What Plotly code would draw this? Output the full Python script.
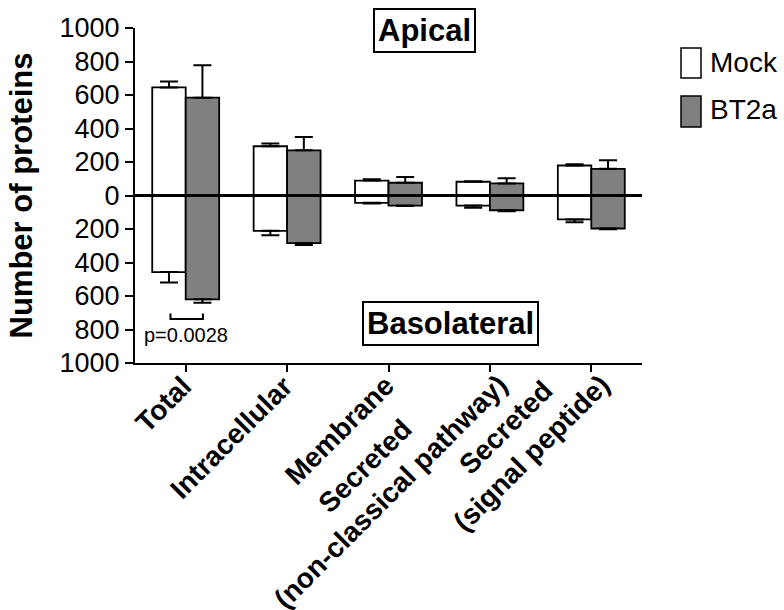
import plotly.graph_objects as go

categories = ["Total", "Intracellular", "Membrane",
              "Secreted (non-classical pathway)", "Secreted (signal peptide)"]
tick_labels = ["Total", "Intracellular", "Membrane",
               "Secreted<br>(non-classical pathway)",
               "Secreted<br>(signal peptide)"]

mock_apical = [645, 294, 89, 82, 179]
mock_apical_err = [36, 16, 8, 3, 7]
bt2a_apical = [584, 270, 76, 72, 159]
bt2a_apical_err = [193, 80, 34, 31, 52]
mock_baso = [-457, -211, -44, -60, -143]
mock_baso_err = [62, 27, 4, 13, 17]
bt2a_baso = [-620, -284, -60, -88, -197]
bt2a_baso_err = [20, 12, 3, 6, 4]

y_tick_vals = [1000, 800, 600, 400, 200, 0, -200, -400, -600, -800, -1000]
y_tick_text = ["1000", "800", "600", "400", "200", "0", "200", "400", "600", "800", "1000"]

FONT = "Liberation Sans, Arial, sans-serif"
W, H = 784, 610
ML, MR, MT, MB = 135, 142, 28, 247
PW, PH = W - ML - MR, H - MT - MB


def px(x):
    return (x - ML) / PW


def py(y):
    return (H - MB - y) / PH


def bar(name, vals, errs, up, fill, offset):
    zeros = [0] * len(vals)
    err = dict(type="data", symmetric=False,
               array=errs if up else zeros,
               arrayminus=zeros if up else errs,
               width=9, thickness=2, color="black")
    return go.Bar(x=categories, y=vals, name=name, showlegend=False,
                  marker=dict(color=fill, line=dict(color="black", width=1.8)),
                  width=0.33, offset=offset, error_y=err)


fig = go.Figure()
fig.add_trace(bar("Mock", mock_apical, mock_apical_err, True, "white", -0.33))
fig.add_trace(bar("BT2a", bt2a_apical, bt2a_apical_err, True, "#808080", 0))
fig.add_trace(bar("Mock", mock_baso, mock_baso_err, False, "white", -0.33))
fig.add_trace(bar("BT2a", bt2a_baso, bt2a_baso_err, False, "#808080", 0))

shapes = [
    # zero line above bars
    dict(type="line", xref="paper", yref="y", x0=0, x1=1, y0=0, y1=0,
         line=dict(color="black", width=3), layer="above"),
    # p-value bracket
    dict(type="path", xref="x", yref="y",
         path="M -0.15,-705 L -0.15,-738 L 0.17,-738 L 0.17,-705",
         line=dict(color="black", width=2)),
    # legend swatches
    dict(type="rect", xref="paper", yref="paper", x0=px(681), x1=px(701),
         y0=py(78), y1=py(48), fillcolor="white", line=dict(color="black", width=1.5)),
    dict(type="rect", xref="paper", yref="paper", x0=px(681), x1=px(701),
         y0=py(127), y1=py(96), fillcolor="#808080", line=dict(color="black", width=1.5)),
]

annotations = [
    dict(text="<b>Apical</b>", xref="paper", yref="paper", x=px(424.5), y=py(30.5),
         xanchor="center", yanchor="middle",
         showarrow=False, font=dict(family=FONT, size=31, color="black"),
         bordercolor="black", borderwidth=2, borderpad=3, bgcolor="white"),
    dict(text="<b>Basolateral</b>", xref="paper", yref="paper", x=px(450), y=py(323.5),
         xanchor="center", yanchor="middle",
         showarrow=False, font=dict(family=FONT, size=31, color="black"),
         bordercolor="black", borderwidth=2, borderpad=3, bgcolor="white"),
    dict(text="p=0.0028", xref="x", yref="y", x=0.0, y=-830, showarrow=False,
         font=dict(family=FONT, size=20, color="black")),
    dict(text="Mock", xref="paper", yref="paper", x=px(708), y=py(63),
         xanchor="left", yanchor="middle", showarrow=False,
         font=dict(family=FONT, size=28, color="black")),
    dict(text="BT2a", xref="paper", yref="paper", x=px(708), y=py(109),
         xanchor="left", yanchor="middle", showarrow=False,
         font=dict(family=FONT, size=28, color="black")),
]

# category labels, rotated, anchored at each category tick
for cat, lab in zip(categories, tick_labels):
    multi = "<br>" in lab
    annotations.append(dict(
        text="<b>" + lab.replace("<br>", "</b><br><b>") + "</b>",
        xref="x", yref="paper", x=cat, y=0,
        xanchor="right", yanchor="top", textangle=-45, align="center",
        xshift=25 if multi else 13, yshift=21 if multi else -6,
        showarrow=False, borderpad=0,
        font=dict(family=FONT, size=28, color="black")))

fig.update_layout(
    width=W, height=H,
    margin=dict(l=ML, r=MR, t=MT, b=MB, autoexpand=False),
    paper_bgcolor="white", plot_bgcolor="white",
    barmode="overlay",
    showlegend=False,
    shapes=shapes,
    annotations=annotations,
    font=dict(family=FONT, color="black"),
    xaxis=dict(range=[-0.5, 4.5], showticklabels=False,
               showline=True, linecolor="black", linewidth=2,
               ticks="outside", ticklen=7, tickwidth=2, tickcolor="black",
               showgrid=False, zeroline=False, automargin=False),
    yaxis=dict(range=[-1000, 1000], tickvals=y_tick_vals, ticktext=y_tick_text,
               tickfont=dict(family=FONT, size=27),
               showline=True, linecolor="black", linewidth=2,
               ticks="outside", ticklen=8, tickwidth=2, tickcolor="black",
               showgrid=False, zeroline=False, automargin=False,
               title=dict(text="Number of proteins", standoff=18,
                          font=dict(family=FONT, size=31, weight="bold"))),
)

fig.write_html("out.html")
